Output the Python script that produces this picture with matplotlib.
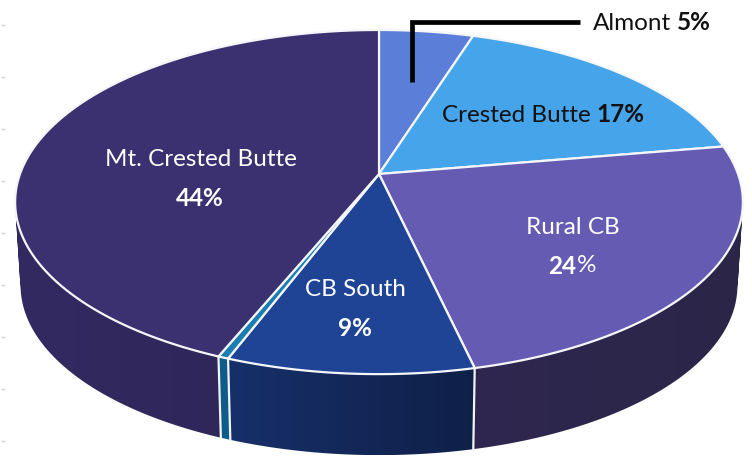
import matplotlib
matplotlib.use("Agg")
import matplotlib.pyplot as plt
from matplotlib.patches import Polygon
from matplotlib.path import Path
import numpy as np

plt.rcParams['font.family'] = ['Lato', 'DejaVu Sans']

# pie values, clockwise from 12 o'clock (the unlabelled sliver sits between CB South and Mt. CB)
names = ["Almont", "Crested Butte", "Rural CB", "CB South", "", "Mt. Crested Butte"]
shares = [4.9, 17.4, 24.1, 9.4, 0.4, 43.8]
top_colors = ["#5b7ed8", "#45a4ea", "#665bb3", "#1f4496", "#1a7fb0", "#3b3170"]
# wall colours, left and right end of each slice
wall_colors = [("#2b2648", "#2b2648"), ("#2b2648", "#2b2648"), ("#2f274f", "#2b2648"),
               ("#17306a", "#0f2048"), ("#0f5c8a", "#0f5c8a"), ("#332a62", "#2c2454")]
tick_y = [25, 77, 129, 181, 233, 285, 337, 389, 441]

# perspective of the disc, in pixels
cx, cy = 379, 174
a, b, k = 359, 167.5, 0.163
drop, shrink = 84, 0.985


def disc(theta, lower=False):
    u, v = np.sin(theta), -np.cos(theta)
    den = 1 - k * v
    x = a * u / den
    y = b * v / den
    if lower:
        return cx + shrink * x, cy + drop + shrink * y
    return cx + x, cy + y


fig = plt.figure(figsize=(7.52, 4.58), dpi=100)
ax = fig.add_axes([0, 0, 1, 1])
ax.axis("off")

ax.hlines(tick_y, 1, 5, color="#d4d4d4", lw=1)

edges = np.cumsum([0] + shares) / sum(shares) * 2 * np.pi

# side walls first, the top covers whatever is behind
# each wall is a union of small quads so the outline follows the side of the drum
for i in range(len(shares)):
    th = np.linspace(edges[i], edges[i + 1], 200)
    xt, yt = disc(th)
    xb, yb = disc(th, True)
    quads = []
    for j in range(len(th) - 1):
        q = np.array([(xt[j], yt[j]), (xt[j + 1], yt[j + 1]), (xb[j + 1], yb[j + 1]), (xb[j], yb[j])])
        area = np.sum(q[:, 0] * np.roll(q[:, 1], -1) - np.roll(q[:, 0], -1) * q[:, 1])
        if area < 0:
            q = q[::-1]
        quads.append(Path(np.vstack([q, q[0]]), closed=True))
    wall_path = Path.make_compound_path(*quads)
    c1 = np.array(matplotlib.colors.to_rgb(wall_colors[i][0]))
    c2 = np.array(matplotlib.colors.to_rgb(wall_colors[i][1]))
    grad = np.linspace(c1, c2, 256)[np.newaxis, :, :]
    im = ax.imshow(grad, extent=[min(xt.min(), xb.min()), max(xt.max(), xb.max()),
                                 max(yt.max(), yb.max()), min(yt.min(), yb.min())],
                   aspect="auto", interpolation="bilinear", zorder=2)
    im.set_clip_path(wall_path, ax.transData)

ax.set_xlim(0, 752)
ax.set_ylim(458, 0)

# white seams on the front wall
for e in edges[2:6]:
    if np.cos(e) < 0:
        xt, yt = disc(e)
        xb, yb = disc(e, True)
        ax.plot([xt, xb], [yt, yb], color="#f2f4f8", lw=1.6, zorder=3)

# top of the pie
for i in range(len(shares)):
    th = np.linspace(edges[i], edges[i + 1], 120)
    xs, ys = disc(th)
    pts = [(cx, cy)] + list(zip(xs, ys))
    ax.add_patch(Polygon(pts, closed=True, facecolor=top_colors[i], edgecolor="#f4f6fa",
                         lw=1.6, joinstyle="round", zorder=4))


def label(x, y, runs, color, size=17.5):
    # runs of (text, weight) centred together on x
    r = fig.canvas.get_renderer()
    items = []
    total = 0
    for n, (s, weight) in enumerate(runs):
        t = ax.text(0, y, s, color=color, fontsize=size, fontweight=weight,
                    va="center", ha="left", zorder=6)
        w = t.get_window_extent(r).width
        gap = 6 if n < len(runs) - 1 and s[-1].isalpha() else 1
        items.append((t, w, gap))
        total += w + gap
    total -= items[-1][2]
    pos = x - total / 2
    for t, w, gap in items:
        t.set_x(pos)
        pos += w + gap


# leader line for Almont
ax.plot([412, 412, 580], [82, 22, 22], color="black", lw=3.4, solid_joinstyle="miter",
        solid_capstyle="butt", zorder=5)

label(652, 23, [(names[0], "normal"), ("5%", "bold")], "#111111")
label(543, 115, [(names[1], "normal"), ("17%", "bold")], "#111111")
label(573, 227, [(names[2], "normal")], "white")
label(572, 266, [("24", "bold"), ("%", "normal")], "white")
label(355, 290, [(names[3], "normal")], "white")
label(355, 329, [("9%", "bold")], "white")
label(201, 160, [(names[5], "normal")], "white")
label(200, 199, [("44%", "bold")], "white")

fig.savefig("out.png", dpi=100)
